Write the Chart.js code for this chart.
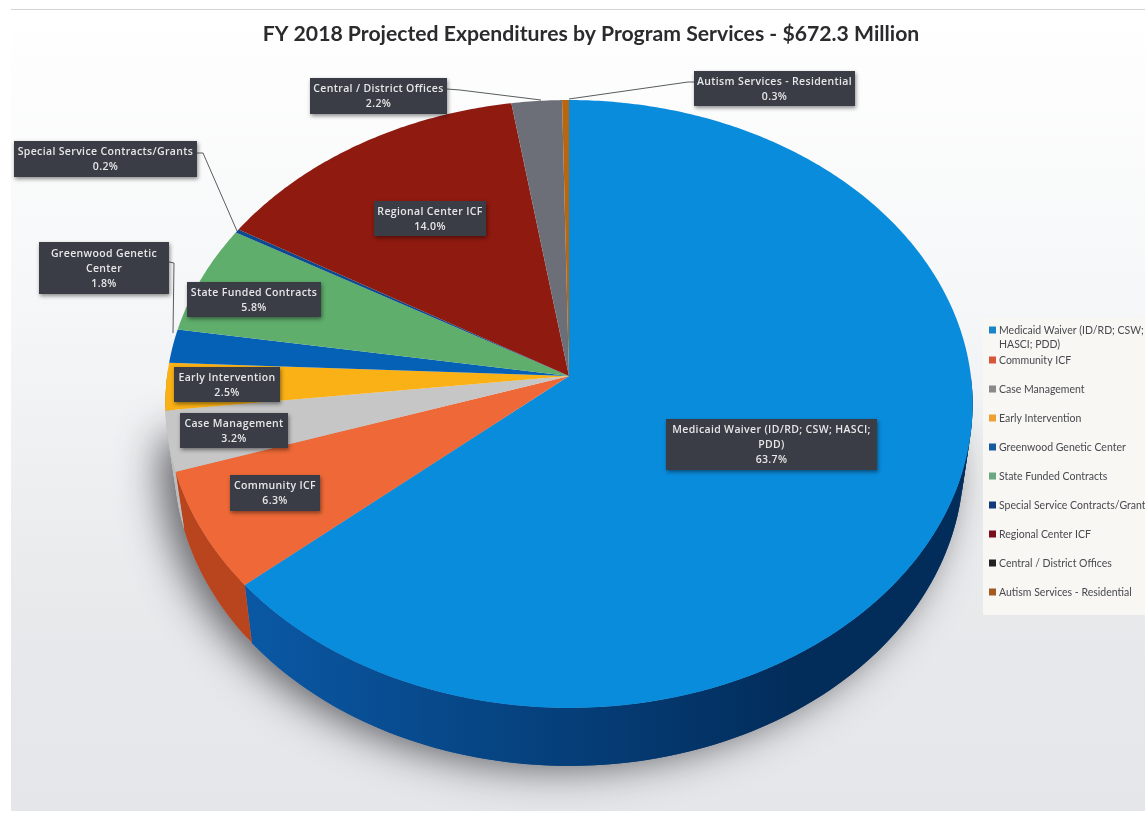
<!DOCTYPE html>
<html>
<head>
<meta charset="utf-8">
<title>FY 2018 Projected Expenditures</title>
<script src="https://cdn.jsdelivr.net/npm/chart.js@4"></script>
<style>
  html, body { margin: 0; padding: 0; background: #fff; }
  canvas { display: block; }
</style>
</head>
<body>
<canvas id="expenditurePie" width="1145" height="813"></canvas>
<script>
const chartTitle = 'FY 2018 Projected Expenditures by Program Services - $672.3 Million';
const categories = [
    'Medicaid Waiver (ID/RD; CSW; HASCI; PDD)',
    'Community ICF',
    'Case Management',
    'Early Intervention',
    'Greenwood Genetic Center',
    'State Funded Contracts',
    'Special Service Contracts/Grants',
    'Regional Center ICF',
    'Central / District Offices',
    'Autism Services - Residential',
];
const shares = [63.7, 6.3, 3.2, 2.5, 1.8, 5.8, 0.2, 14.0, 2.2, 0.3];
const sliceColors = ['#0a8cdc', '#ee6937', '#c6c6c7', '#fab116', '#0561b6', '#5fae6c', '#0b4a90', '#8f1a10', '#6d6f78', '#b8660f'];
const wallColors = [['#0a58a4', '#022c5a'], ['#b9451f', '#a93a16'], ['#bdbdbe', '#bdbdbe'], ['#c98d10', '#c98d10'], ['#044b8e', '#044b8e'], ['#4a8a55', '#4a8a55'], ['#083a70', '#083a70'], ['#6f140c', '#6f140c'], ['#55575e', '#55575e'], ['#8f4f0b', '#8f4f0b']];
const swatchColors = ['#1a86c8', '#d9563c', '#8a8a8c', '#f0a032', '#175a9e', '#6aa880', '#123a7a', '#7a0f1c', '#222222', '#a05a22'];

// wrapped text for the callouts and the legend
const calloutLines = [
    ['Medicaid Waiver (ID/RD; CSW; HASCI;', 'PDD)'],
    ['Community ICF'],
    ['Case Management'],
    ['Early Intervention'],
    ['Greenwood Genetic', 'Center'],
    ['State Funded Contracts'],
    ['Special Service Contracts/Grants'],
    ['Regional Center ICF'],
    ['Central / District Offices'],
    ['Autism Services - Residential'],
];
const legendLines = [['Medicaid Waiver (ID/RD; CSW;', 'HASCI; PDD)']].concat(categories.slice(1).map((c) => [c]));

// x, y, w, h of each callout box
const calloutBoxes = [
    [666, 419, 211, 51], [230, 475, 90, 36], [180, 413, 108, 35], [174, 367, 106, 35], [39, 242, 130, 52],
    [187, 282, 134, 35], [14, 141, 183, 36], [374, 201, 112, 35], [310, 78, 137, 36], [694, 71, 161, 35],
];
// leader lines, indexed by slice
const leaders = {
    4: [[169, 262], [174, 263], [173, 333]],
    6: [[197, 153], [203, 153], [237, 231]],
    8: [[447, 89], [460, 90], [541, 100]],
    9: [[694, 82], [688, 82], [569, 99]],
};

// perspective of the pie top, relative to the radius the library hands out
const tilt = { k: 0.092, sx: 1.451, sy: 1.088, shrink: 0.978, depth: 58 };

const rimPoint = (arc, angle, lowered) => {
    const u = Math.cos(angle);
    const v = Math.sin(angle);
    const w = 1 - tilt.k * v;
    let x = (u * arc.outerRadius * tilt.sx) / w;
    let y = (v * arc.outerRadius * tilt.sy) / w;
    if (lowered) {
        x *= tilt.shrink;
        y += tilt.depth;
    }
    return [arc.x + x, arc.y + y];
};

const traceRim = (ctx, arc, from, to, lowered) => {
    const steps = Math.max(2, Math.ceil(Math.abs(to - from) / 0.01));
    for (let i = 0; i <= steps; i++) {
        const [x, y] = rimPoint(arc, from + ((to - from) * i) / steps, lowered);
        ctx.lineTo(x, y);
    }
};

// the side of a slice; each quad runs a bit past the next one to hide the joins.
// only the front half of the rim can be seen, the rest stays under the top face
const drawWall = (ctx, arc, i) => {
    const gradient = ctx.createLinearGradient(250, 0, 800, 0);
    gradient.addColorStop(0, wallColors[i][0]);
    gradient.addColorStop(1, wallColors[i][1]);
    ctx.fillStyle = gradient;
    const stepSize = 0.02;
    for (let a = arc.startAngle; a < arc.endAngle; a += stepSize) {
        if (Math.sin(a) < 0) {
            continue;
        }
        const next = Math.min(a + stepSize * 2, arc.endAngle);
        ctx.beginPath();
        [rimPoint(arc, a, false), rimPoint(arc, next, false), rimPoint(arc, next, true), rimPoint(arc, a, true)]
            .forEach(([x, y]) => ctx.lineTo(x, y));
        ctx.closePath();
        ctx.fill();
    }
};

const drawFace = (ctx, arc, i) => {
    ctx.fillStyle = sliceColors[i];
    ctx.beginPath();
    ctx.moveTo(arc.x, arc.y);
    traceRim(ctx, arc, arc.startAngle, arc.endAngle, false);
    ctx.closePath();
    ctx.fill();
};

const tiltedPie = {
    id: 'tiltedPie',
    beforeDraw(chart) {
        const { ctx, width, height } = chart;
        ctx.save();
        ctx.fillStyle = '#ffffff';
        ctx.fillRect(0, 0, width, height);
        const panel = ctx.createLinearGradient(0, 10, 0, height);
        panel.addColorStop(0, '#ffffff');
        panel.addColorStop(0.35, '#f6f7f8');
        panel.addColorStop(0.75, '#e8e9eb');
        panel.addColorStop(1, '#e4e6e9');
        ctx.fillStyle = panel;
        ctx.fillRect(11, 10, width - 11, height - 12);
        ctx.fillStyle = '#d4d4d6';
        ctx.fillRect(11, 9, width - 11, 1);
        ctx.restore();
    },
    afterLayout(chart) {
        // the title sits a little right of the pie
        chart.titleBlock.left += 22;
        chart.titleBlock.right += 22;
    },
    beforeDatasetDraw(chart, args) {
        const { ctx } = chart;
        const arcs = args.meta.data;
        ctx.save();
        // soft shadow under the lower rim, falling to the left
        ctx.save();
        ctx.shadowColor = 'rgba(85, 85, 92, 0.95)';
        ctx.shadowBlur = 42;
        ctx.shadowOffsetX = -13;
        ctx.shadowOffsetY = 2;
        ctx.fillStyle = '#b8b8ba';
        ctx.beginPath();
        traceRim(ctx, arcs[0], 0, Math.PI, true);
        ctx.closePath();
        ctx.fill();
        ctx.restore();
        arcs.forEach((arc, i) => drawWall(ctx, arc, i));
        arcs.forEach((arc, i) => drawFace(ctx, arc, i));
        ctx.restore();
        return false;
    },
    afterDatasetsDraw(chart) {
        const { ctx } = chart;
        ctx.save();
        drawLegend(ctx);
        Object.values(leaders).forEach((points) => {
            ctx.strokeStyle = '#5a5c60';
            ctx.lineWidth = 1;
            ctx.beginPath();
            points.forEach(([x, y]) => ctx.lineTo(x, y));
            ctx.stroke();
        });
        calloutBoxes.forEach((box, i) => drawCallout(ctx, box, i));
        ctx.restore();
    },
};

function drawCallout(ctx, [x, y, w, h], i) {
    ctx.save();
    ctx.shadowColor = 'rgba(0, 0, 0, 0.45)';
    ctx.shadowBlur = 4;
    ctx.shadowOffsetX = 1;
    ctx.shadowOffsetY = 2;
    ctx.fillStyle = '#3a3d45';
    ctx.fillRect(x, y, w, h);
    ctx.restore();
    const lines = calloutLines[i].concat(shares[i].toFixed(1) + '%');
    const lineHeight = 15;
    const firstLine = y + 1 + h / 2 - ((lines.length - 1) * lineHeight) / 2;
    ctx.save();
    ctx.fillStyle = '#e6e7e8';
    ctx.font = '600 10.5px "Open Sans"';
    ctx.letterSpacing = '0.35px';
    ctx.textAlign = 'center';
    ctx.textBaseline = 'middle';
    lines.forEach((line, n) => ctx.fillText(line, x + w / 2, firstLine + n * lineHeight));
    ctx.restore();
}

function drawLegend(ctx) {
    ctx.fillStyle = '#f8f7f4';
    ctx.fillRect(983, 318, 162, 297);
    ctx.font = '10.5px Lato';
    ctx.textAlign = 'left';
    ctx.textBaseline = 'middle';
    legendLines.forEach((lines, i) => {
        const rowY = i === 0 ? 330 : 360 + (i - 1) * 29;
        ctx.fillStyle = swatchColors[i];
        ctx.fillRect(989, rowY - 3.5, 7, 7);
        ctx.fillStyle = '#47494f';
        lines.forEach((line, n) => ctx.fillText(line, 999, rowY + 1 + n * 14));
    });
}

new Chart(document.getElementById('expenditurePie').getContext('2d'), {
    type: 'pie',
    data: {
        labels: categories,
        datasets: [{ data: shares, backgroundColor: sliceColors, borderWidth: 0 }],
    },
    options: {
        responsive: false,
        animation: false,
        layout: { padding: { left: 0, right: 7, top: 0, bottom: 160 } },
        plugins: {
            legend: { display: false },
            tooltip: { enabled: false },
            title: {
                display: true,
                text: chartTitle,
                color: '#2b2b2e',
                font: { family: 'Lato', size: 21.2, weight: 'bold', lineHeight: 1.2 },
                padding: { top: 21.4, bottom: 52.2 },
            },
        },
    },
    plugins: [tiltedPie],
});
</script>
</body>
</html>
